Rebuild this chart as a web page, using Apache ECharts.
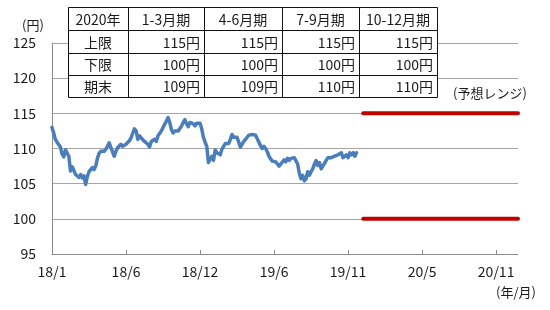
<!DOCTYPE html>
<html><head><meta charset="utf-8">
<script src="https://cdn.jsdelivr.net/npm/echarts@6/dist/echarts.min.js"></script>
<style>html,body{margin:0;padding:0;background:#fff}#c{width:550px;height:310px}</style>
</head><body><div id="c"></div>
<script>
// x-axis: evenly spaced observation index (like a category axis); a tick every tickStep points
const tickLabels = ['18/1','18/6','18/12','19/6','19/11','20/5','20/11'];
const tickStep = 44;
const axisEnd = 277;
// USD/JPY observations (円)
const usdjpy = [
113.0,112.2,111.3,110.9,110.7,110.2,109.2,108.8,109.8,109.6,
108.9,106.8,107.4,106.9,106.3,106.5,105.9,106.3,105.8,106.1,
104.9,106.0,106.7,107.0,107.3,107.0,107.5,108.6,109.3,109.6,
109.4,109.6,109.9,110.1,110.8,110.6,109.5,108.9,109.6,110.1,
110.3,110.6,110.3,110.1,110.6,110.8,111.1,111.5,112.2,112.8,
112.5,111.3,111.8,111.5,111.3,111.0,110.8,110.6,110.2,111.0,
110.8,111.3,111.0,111.8,112.0,112.5,113.0,113.2,113.9,114.4,
113.7,112.7,112.2,112.5,112.7,112.5,112.7,113.2,113.7,114.1,
113.5,113.1,113.7,113.9,113.5,113.2,113.6,113.4,113.6,112.8,
111.6,110.9,110.3,108.0,108.5,108.9,108.3,109.8,109.4,109.5,
109.1,109.9,110.3,110.7,110.9,110.7,111.3,112.0,111.6,111.5,
111.6,110.9,110.2,110.4,111.0,111.3,111.6,111.9,112.1,112.0,
112.1,111.9,111.4,110.9,110.4,110.0,110.3,110.0,109.5,108.9,
108.5,108.2,108.4,108.1,107.8,107.5,107.7,108.1,108.4,108.1,
108.6,108.3,108.6,108.4,108.7,108.5,107.8,106.5,105.7,106.2,
105.4,105.7,106.7,106.2,106.7,107.1,107.8,108.3,107.6,108.0,
107.1,107.5,107.9,108.3,108.7,108.9,108.7,108.7,108.9,108.7,
109.1,108.9,109.4,108.7,108.9,109.1,108.7,109.4,109.1,109.4,
108.9,109.4
];
// forecast range 2020
const forecastStart = 185;
const rangeHigh = 115;
const rangeLow = 100;
// table
const tableHeader = ['2020年','1-3月期','4-6月期','7-9月期','10-12月期'];
const rowLabels = ['上限','下限','期末'];
const upperRow = [115,115,115,115];
const lowerRow = [100,100,100,100];
const endRow = [109,109,110,110];
const yTicks = {min:95, max:125, step:5};

const FONT = '"Noto Sans CJK JP", "Noto Sans", sans-serif';
const chart = echarts.init(document.getElementById('c'), null, {renderer:'canvas'});

const tickVals = tickLabels.map((_, i) => i * tickStep);
const lineData = usdjpy.map((v, i) => [i, v]);

// table graphic
const colX = [68,128,204,282,359,437];
const rowY = [7,30,53,75,97];
const els = [];
els.push({type:'rect', z:100, shape:{x:colX[0]+0.5, y:rowY[0]+0.5, width:colX[5]-colX[0], height:rowY[4]-rowY[0]},
  style:{fill:'#fff', stroke:'#111', lineWidth:1}});
for (let c = 1; c < colX.length-1; c++) {
  els.push({type:'line', z:101, shape:{x1:colX[c]+0.5, y1:rowY[0], x2:colX[c]+0.5, y2:rowY[4]}, style:{stroke:'#111', lineWidth:1}});
}
for (let r = 1; r < rowY.length-1; r++) {
  els.push({type:'line', z:101, shape:{x1:colX[0], y1:rowY[r]+0.5, x2:colX[5], y2:rowY[r]+0.5}, style:{stroke:'#111', lineWidth:1}});
}
function txt(x, y, s, align) {
  return {type:'text', z:102, x:x, y:y, style:{text:s, fontSize:14, fontFamily:FONT, fill:'#1a1a1a', align:align||'center', verticalAlign:'middle'}};
}
tableHeader.forEach((h, c) => els.push(txt((colX[c]+colX[c+1])/2, (rowY[0]+rowY[1])/2+1, h)));
const rows = [upperRow, lowerRow, endRow];
rowLabels.forEach((lab, r) => {
  const cy = (rowY[r+1]+rowY[r+2])/2+1;
  els.push(txt((colX[0]+colX[1])/2, cy, lab));
  rows[r].forEach((v, c) => els.push(txt(colX[c+2]-4, cy, v + '円', 'right')));
});
els.push({type:'text', x:33, y:25, style:{text:'(円)', fontSize:13, fontFamily:FONT, fill:'#1a1a1a', align:'center', verticalAlign:'middle'}});
els.push({type:'text', x:490, y:93, style:{text:'(予想レンジ)', fontSize:13, fontFamily:FONT, fill:'#1a1a1a', align:'center', verticalAlign:'middle'}});
els.push({type:'text', x:516, y:292, style:{text:'(年/月)', fontSize:13, fontFamily:FONT, fill:'#1a1a1a', align:'center', verticalAlign:'middle'}});

chart.setOption({
  animation:false,
  backgroundColor:'#fff',
  grid:{left:52, right:32, top:43, bottom:56, containLabel:false},
  xAxis:{
    type:'value', min:0, max:axisEnd, interval:tickStep,
    axisLine:{show:true, lineStyle:{color:'#8c8c8c', width:1}},
    axisTick:{show:true, inside:true, length:4, customValues:tickVals, lineStyle:{color:'#8c8c8c'}},
    axisLabel:{customValues:tickVals, margin:11, fontSize:14, fontFamily:FONT, color:'#1a1a1a',
      formatter:(v) => { const k = Math.round(v / tickStep); return (Math.abs(v - k*tickStep) < 1e-6 && tickLabels[k]) ? tickLabels[k] : ''; }},
    splitLine:{show:false}
  },
  yAxis:{
    type:'value', min:yTicks.min, max:yTicks.max, interval:yTicks.step,
    axisLine:{show:true, lineStyle:{color:'#8c8c8c', width:1}},
    axisTick:{show:false},
    axisLabel:{margin:16, fontSize:14, fontFamily:FONT, color:'#1a1a1a'},
    splitLine:{show:true, lineStyle:{color:'#a6a6a6', width:1}}
  },
  series:[
    {type:'line', data:lineData, showSymbol:false, symbol:'none', z:5,
      lineStyle:{color:'#4a7ebb', width:3.5, join:'round', cap:'round'}},
    {type:'line', data:[[forecastStart, rangeHigh],[axisEnd, rangeHigh]], showSymbol:false, symbol:'none', z:6,
      lineStyle:{color:'#c00000', width:4, cap:'round'}},
    {type:'line', data:[[forecastStart, rangeLow],[axisEnd, rangeLow]], showSymbol:false, symbol:'none', z:6,
      lineStyle:{color:'#c00000', width:4, cap:'round'}}
  ],
  graphic:{elements:els}
});
</script>
</body></html>
